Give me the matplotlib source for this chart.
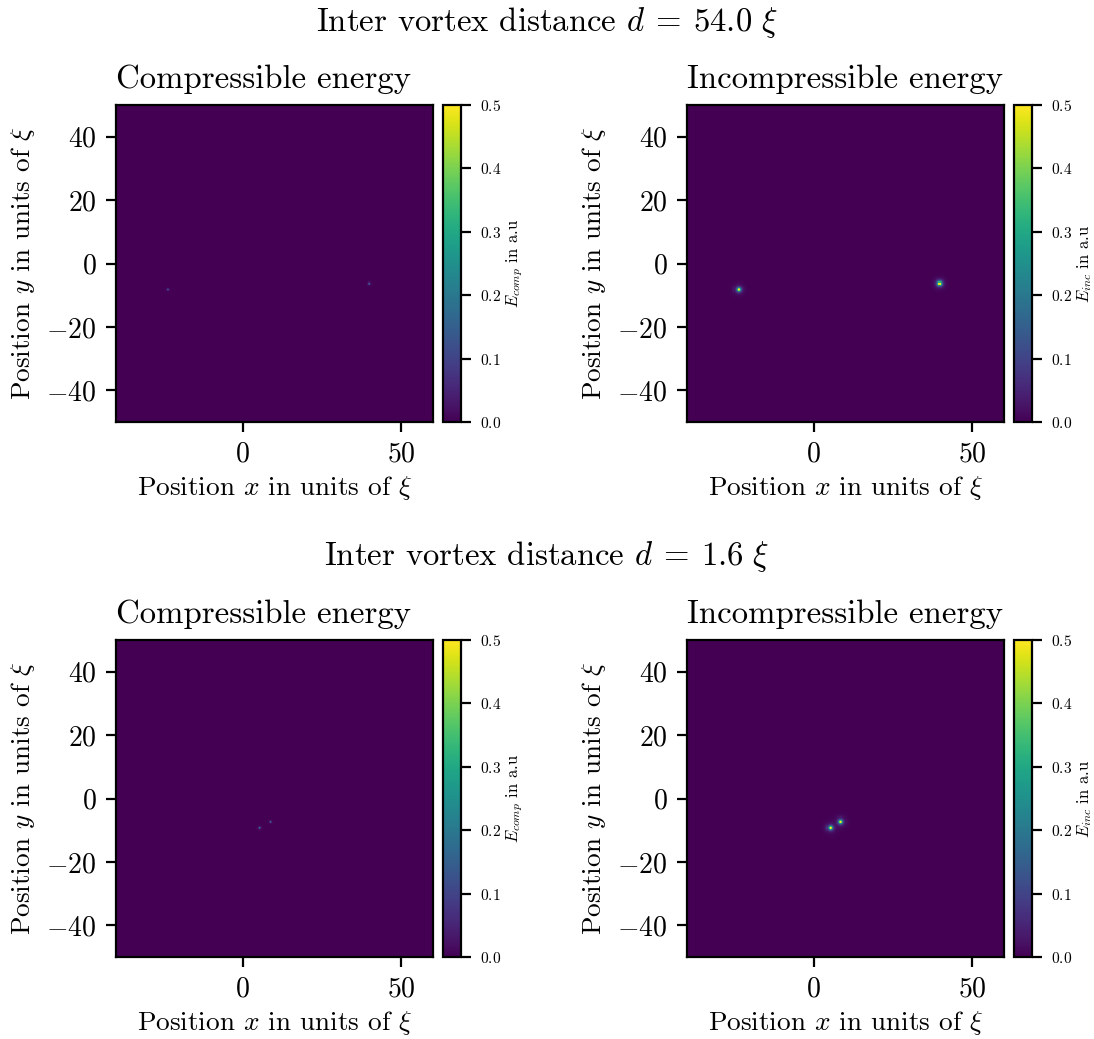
import numpy as np
import matplotlib
matplotlib.use("Agg")
import matplotlib.pyplot as plt

plt.rcParams['font.family'] = 'serif'
plt.rcParams['font.serif'] = ['cmr10']
plt.rcParams['mathtext.fontset'] = 'cm'
plt.rcParams['axes.formatter.use_mathtext'] = True
plt.rcParams['axes.unicode_minus'] = True

# Domain (units of xi)
x_range = [-40, 60]
y_range = [-50, 50]
n_grid = 300

# Row data
distances = [54.0, 1.6]
# vortex positions (x, y) per row
vortex_x = [[-23.8, 39.8], [5.2, 8.5]]
vortex_y = [[-8.2, -6.3], [-9.3, -7.3]]
# peak energy densities (a.u.) per row: compressible, incompressible
comp_peak = [[0.18, 0.22], [0.24, 0.20]]
inc_peak = [[0.60, 0.60], [0.60, 0.60]]
comp_width = 0.35
inc_width = 0.8

vmin, vmax = 0.0, 0.5
cbar_ticks = [0.0, 0.1, 0.2, 0.3, 0.4, 0.5]

xs = np.linspace(x_range[0], x_range[1], n_grid)
ys = np.linspace(y_range[0], y_range[1], n_grid)
X, Y = np.meshgrid(xs, ys)


def field(vx, vy, peaks, w):
    f = np.zeros_like(X)
    for cx, cy, a in zip(vx, vy, peaks):
        r2 = ((X - cx) ** 2 + (Y - cy) ** 2) / w ** 2
        f += a / (1.0 + r2) ** 2
    return f


W, H = 1094, 1039
DPI = 200
fig = plt.figure(figsize=(W / DPI, H / DPI), dpi=DPI)


def px_axes(x0, y0, x1, y1):
    return fig.add_axes([x0 / W, 1 - y1 / H, (x1 - x0) / W, (y1 - y0) / H])


row_tops = [105, 640]
col_lefts = [116, 687]
size = 317
cb_off, cb_w = 10, 17.5

titles = ["Compressible energy", "Incompressible energy"]
cb_labels = [r"$E_{comp}$ in a.u", r"$E_{inc}$ in a.u"]
suptitle_y = [22, 557]

for r in range(2):
    fig.text(0.5, 1 - suptitle_y[r] / H,
             r"Inter vortex distance $d\:=\:%.1f\ \xi$" % distances[r],
             ha='center', va='center', fontsize=11.8)
    fields = [field(vortex_x[r], vortex_y[r], comp_peak[r], comp_width),
              field(vortex_x[r], vortex_y[r], inc_peak[r], inc_width)]
    for c in range(2):
        x0 = col_lefts[c]
        y0 = row_tops[r]
        ax = px_axes(x0, y0, x0 + size, y0 + size)
        im = ax.imshow(fields[c], origin='lower', cmap='viridis',
                       extent=[x_range[0], x_range[1], y_range[0], y_range[1]],
                       vmin=vmin, vmax=vmax, interpolation='nearest', aspect='auto')
        ax.set_title(titles[c], fontsize=11.8, loc='left')
        ax.set_xlabel(r"Position $x$ in units of $\xi$", fontsize=9.8)
        ax.set_ylabel(r"Position $y$ in units of $\xi$", fontsize=9.8)
        ax.xaxis.set_label_coords(0.5, -0.164)
        ax.yaxis.set_label_coords(-0.25, 0.5)
        ax.set_xticks([0, 50])
        ax.set_yticks([-40, -20, 0, 20, 40])
        ax.tick_params(labelsize=10)
        cax = px_axes(x0 + size + cb_off, y0, x0 + size + cb_off + cb_w, y0 + size)
        cb = fig.colorbar(im, cax=cax, ticks=cbar_ticks)
        cb.ax.tick_params(labelsize=5.6)
        cb.set_label(cb_labels[c], fontsize=6.0)
        cb.ax.yaxis.set_label_coords(3.5, 0.5)

fig.savefig("out.png", dpi=DPI)
